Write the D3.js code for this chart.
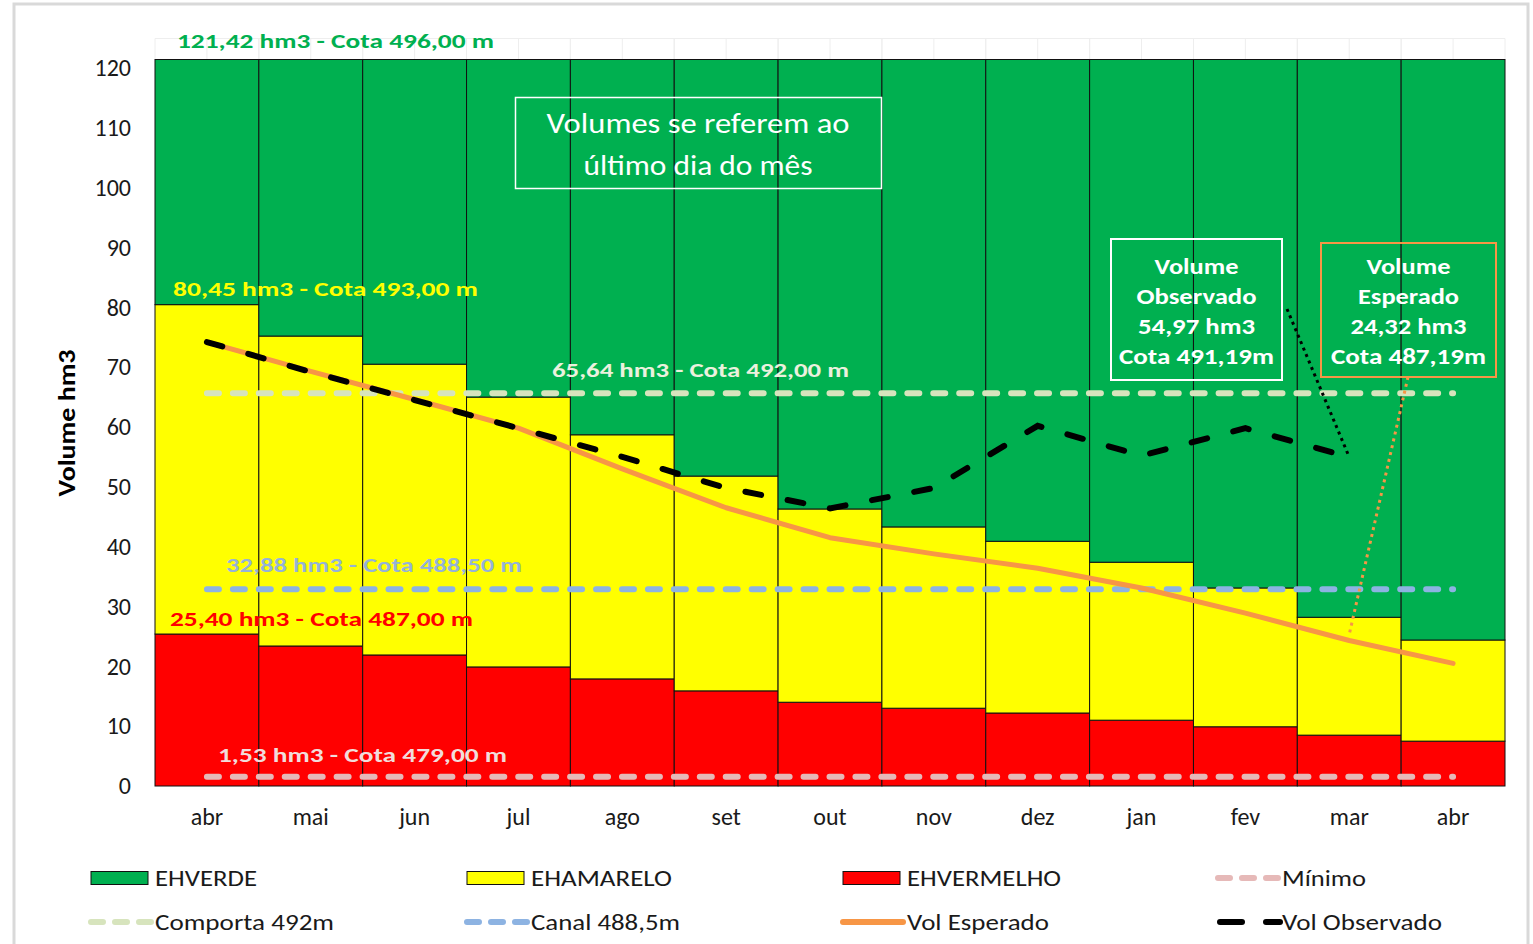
<!DOCTYPE html>
<html>
<head>
<meta charset="utf-8">
<script src="https://cdn.jsdelivr.net/npm/d3@7"></script>
<style>
  body { margin: 0; background: #fff; }
  svg { display: block; font-family: Carlito, Calibri, "Open Sans", sans-serif; }
  .tick text { font-size: 24px; fill: #1a1a1a; font-family: Carlito, Calibri, "Open Sans", sans-serif; }
</style>
</head>
<body>
<script>
// Months on the x axis (the year wraps, so "abr" shows up twice)
var months = ["abr", "mai", "jun", "jul", "ago", "set", "out", "nov", "dez", "jan", "fev", "mar", "abr"];

// Stacked bands, hm3
var vermelho = [25.40, 23.4, 21.9, 19.9, 17.9, 15.9, 14.0, 13.0, 12.2, 11.0, 9.9, 8.5, 7.5];
var amarelo  = [55.05, 51.8, 48.6, 45.1, 40.8, 35.9, 32.3, 30.3, 28.7, 26.4, 23.2, 19.7, 16.9];
var verde    = [40.97, 46.22, 50.92, 56.42, 62.72, 69.62, 75.12, 78.12, 80.52, 84.02, 88.32, 93.22, 97.02];

// Lines
var volEsperado  = [74.2, 69.3, 64.6, 59.8, 53.0, 46.5, 41.5, 38.8, 36.4, 33.1, 28.9, 24.32, 20.5];
var volObservado = [74.2, 69.2, 64.5, 59.8, 55.0, 49.8, 46.4, 49.8, 60.2, 55.2, 59.8, 54.97];

// Y axis ticks
var yTicks = [0, 10, 20, 30, 40, 50, 60, 70, 80, 90, 100, 110, 120];

// Reference levels
var comporta = 65.64;
var canal = 32.88;
var minimo = 1.53;

var svgWidth = 1533;
var svgHeight = 944;

var svg = d3.select("body")
  .append("svg")
  .attr("width", svgWidth)
  .attr("height", svgHeight);

// outer frame of the excel chart
svg.append("rect")
  .attr("x", 14).attr("y", 4)
  .attr("width", 1514).attr("height", 980)
  .attr("fill", "none")
  .attr("stroke", "#d9d9d9")
  .attr("stroke-width", 3);

// Scales
var xScale = d3.scaleBand()
  .domain(d3.range(months.length))
  .range([155, 1505])
  .padding(0);

var yScale = d3.scaleLinear()
  .domain([0, 120])
  .range([786, 68]);

var cx = i => xScale(i) + xScale.bandwidth() / 2;

// faint grid above the plot
var grid = svg.append("g").attr("stroke", "#eeeeee").attr("stroke-width", 1);
grid.append("line")
  .attr("x1", 155).attr("x2", 1505)
  .attr("y1", 38.5).attr("y2", 38.5);
months.forEach(function(m, i) {
  [xScale(i), cx(i), xScale(i) + xScale.bandwidth()].forEach(function(x) {
    grid.append("line")
      .attr("x1", x).attr("x2", x)
      .attr("y1", 38.5).attr("y2", 60);
  });
});

// Stacked bars
var rows = months.map(function(m, i) {
  return { i: i, vermelho: vermelho[i], amarelo: amarelo[i], verde: verde[i] };
});
var stack = d3.stack().keys(["vermelho", "amarelo", "verde"]);
var colors = { vermelho: "#ff0000", amarelo: "#ffff00", verde: "#00b050" };

svg.append("g")
  .selectAll("g")
  .data(stack(rows))
  .enter()
  .append("g")
  .attr("fill", d => colors[d.key])
  .selectAll("rect")
  .data(d => d)
  .enter()
  .append("rect")
  .attr("x", d => xScale(d.data.i))
  .attr("width", xScale.bandwidth())
  .attr("y", d => yScale(d[1]))
  .attr("height", d => yScale(d[0]) - yScale(d[1]))
  .attr("stroke", "#111")
  .attr("stroke-width", 1);

// Axes
var leftAxis = d3.axisLeft(yScale).tickValues(yTicks).tickSize(0).tickPadding(24);
var bottomAxis = d3.axisBottom(xScale).tickFormat(i => months[i]).tickSize(0).tickPadding(22);

svg.append("g")
  .attr("transform", "translate(155, 0)")
  .call(leftAxis)
  .call(g => g.select(".domain").remove());

svg.append("g")
  .attr("transform", "translate(0, 786)")
  .call(bottomAxis)
  .call(g => g.select(".domain").remove());

// dash pattern that ends on a small dot, like excel's round dashes
function dashFor(len, period, dash) {
  var n = Math.round(len / period);
  var p = (len - 1) / n;
  return dash + "," + (p - dash);
}

// Horizontal reference lines
function refLine(value, color) {
  var x1 = cx(0), x2 = cx(months.length - 1);
  svg.append("line")
    .attr("x1", x1).attr("x2", x2)
    .attr("y1", yScale(value)).attr("y2", yScale(value))
    .attr("stroke", color)
    .attr("stroke-width", 6)
    .attr("stroke-linecap", "round")
    .attr("stroke-dasharray", dashFor(x2 - x1, 26, 12));
}
refLine(comporta, "#d7e4bd");
refLine(canal, "#8db3e2");
refLine(minimo, "#e6b9b8");

// Vol Esperado
var lineEsp = d3.line()
  .x((d, i) => cx(i))
  .y(d => yScale(d));

svg.append("path")
  .datum(volEsperado)
  .attr("d", lineEsp)
  .attr("fill", "none")
  .attr("stroke", "#f79646")
  .attr("stroke-width", 5)
  .attr("stroke-linecap", "round")
  .attr("stroke-linejoin", "round");

// Vol Observado
svg.append("path")
  .datum(volObservado)
  .attr("d", lineEsp)
  .attr("fill", "none")
  .attr("stroke", "#000")
  .attr("stroke-width", 6)
  .attr("stroke-linecap", "round")
  .attr("stroke-dasharray", "16,27");

// Level labels
var labels = [
  { t: "121,42  hm3 - Cota 496,00 m", x: 177, y: 48, w: 317, c: "#00b050" },
  { t: "80,45  hm3 - Cota 493,00 m", x: 173, y: 296, w: 305, c: "#ffff00" },
  { t: "65,64 hm3 - Cota 492,00 m", x: 552, y: 377, w: 297, c: "#ebf1de" },
  { t: "32,88 hm3 - Cota 488,50 m", x: 226, y: 572, w: 296, c: "#95b3d7" },
  { t: "25,40  hm3 - Cota 487,00 m", x: 170, y: 626, w: 303, c: "#ff0000" },
  { t: "1,53  hm3 - Cota 479,00 m", x: 218, y: 762, w: 289, c: "#f2dcdb" }
];
svg.append("g")
  .selectAll("text")
  .data(labels)
  .enter()
  .append("text")
  .attr("x", d => d.x)
  .attr("y", d => d.y)
  .attr("fill", d => d.c)
  .attr("font-size", 21)
  .attr("font-weight", "bold")
  .attr("textLength", d => d.w)
  .attr("lengthAdjust", "spacingAndGlyphs")
  .text(d => d.t);

// Y axis title
svg.append("text")
  .attr("transform", "translate(75, 423) rotate(-90)")
  .attr("text-anchor", "middle")
  .attr("font-size", 24)
  .attr("font-weight", "bold")
  .attr("fill", "#000")
  .attr("textLength", 147)
  .attr("lengthAdjust", "spacingAndGlyphs")
  .text("Volume hm3");

// Note box
svg.append("rect")
  .attr("x", 515.5).attr("y", 97.5)
  .attr("width", 366).attr("height", 91)
  .attr("fill", "none")
  .attr("stroke", "#fff")
  .attr("stroke-width", 1.5);
[["Volumes se referem ao", 133, 303], ["último dia do mês", 175, 229]].forEach(function(n) {
  svg.append("text")
    .attr("x", 698).attr("y", n[1])
    .attr("text-anchor", "middle")
    .attr("font-size", 28)
    .attr("fill", "#fff")
    .attr("textLength", n[2])
    .attr("lengthAdjust", "spacingAndGlyphs")
    .text(n[0]);
});

// Callout boxes
var last = volObservado.length - 1;

svg.append("line")
  .attr("x1", 1287).attr("y1", 309)
  .attr("x2", cx(last)).attr("y2", yScale(volObservado[last]))
  .attr("stroke", "#000")
  .attr("stroke-width", 3)
  .attr("stroke-dasharray", "3,4");

svg.append("line")
  .attr("x1", 1408).attr("y1", 377)
  .attr("x2", cx(11)).attr("y2", yScale(volEsperado[11]) - 6)
  .attr("stroke", "#f79646")
  .attr("stroke-width", 3)
  .attr("stroke-dasharray", "3,4");

function callout(x, y, w, h, color, lines) {
  svg.append("rect")
    .attr("x", x).attr("y", y)
    .attr("width", w).attr("height", h)
    .attr("fill", "none")
    .attr("stroke", color)
    .attr("stroke-width", 2);
  lines.forEach(function(l, k) {
    svg.append("text")
      .attr("x", x + w / 2)
      .attr("y", 274 + k * 30)
      .attr("text-anchor", "middle")
      .attr("font-size", 23)
      .attr("font-weight", "bold")
      .attr("fill", "#fff")
      .attr("textLength", l[1])
      .attr("lengthAdjust", "spacingAndGlyphs")
      .text(l[0]);
  });
}
callout(1111, 239, 171, 141, "#fff",
  [["Volume", 84], ["Observado", 120], ["54,97 hm3", 117], ["Cota 491,19m", 155]]);
callout(1321, 243, 175, 134, "#f79646",
  [["Volume", 84], ["Esperado", 101], ["24,32 hm3", 116], ["Cota 487,19m", 155]]);

// Legend
var legend = [
  { name: "EHVERDE", type: "rect", c: "#00b050", x: 91, y: 878, w: 102 },
  { name: "EHAMARELO", type: "rect", c: "#ffff00", x: 467, y: 878, w: 141 },
  { name: "EHVERMELHO", type: "rect", c: "#ff0000", x: 843, y: 878, w: 154 },
  { name: "Mínimo", type: "dash", c: "#e6b9b8", x: 1218, y: 878, w: 84 },
  { name: "Comporta 492m", type: "dash", c: "#d7e4bd", x: 91, y: 922, w: 179 },
  { name: "Canal 488,5m", type: "dash", c: "#8db3e2", x: 467, y: 922, w: 149 },
  { name: "Vol Esperado", type: "solid", c: "#f79646", x: 843, y: 922, w: 142 },
  { name: "Vol Observado", type: "black", c: "#000", x: 1218, y: 922, w: 160 }
];

var lg = svg.append("g");
legend.forEach(function(d) {
  if (d.type === "rect") {
    lg.append("rect")
      .attr("x", d.x).attr("y", d.y - 6.5)
      .attr("width", 57).attr("height", 13)
      .attr("fill", d.c)
      .attr("stroke", "#111");
  } else if (d.type === "black") {
    lg.append("line")
      .attr("x1", d.x + 2).attr("x2", d.x + 24)
      .attr("y1", d.y).attr("y2", d.y)
      .attr("stroke", d.c).attr("stroke-width", 6).attr("stroke-linecap", "round");
    lg.append("line")
      .attr("x1", d.x + 48).attr("x2", d.x + 62)
      .attr("y1", d.y).attr("y2", d.y)
      .attr("stroke", d.c).attr("stroke-width", 6).attr("stroke-linecap", "round");
  } else {
    lg.append("line")
      .attr("x1", d.x).attr("x2", d.x + 60)
      .attr("y1", d.y).attr("y2", d.y)
      .attr("stroke", d.c)
      .attr("stroke-width", 6)
      .attr("stroke-linecap", "round")
      .attr("stroke-dasharray", d.type === "solid" ? null : "12,12");
  }
  lg.append("text")
    .attr("x", d.x + 64)
    .attr("y", d.y + 8)
    .attr("font-size", 23)
    .attr("fill", "#1a1a1a")
    .attr("textLength", d.w)
    .attr("lengthAdjust", "spacingAndGlyphs")
    .text(d.name);
});
</script>
</body>
</html>
